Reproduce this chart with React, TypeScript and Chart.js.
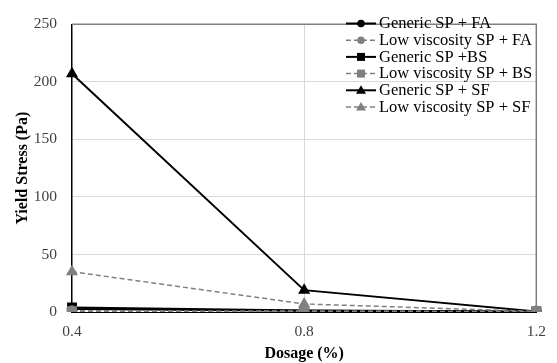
import React, { useEffect, useRef } from 'react';
import { Chart, registerables } from 'chart.js';
Chart.register(...registerables);

const categories = ['0.4', '0.8', '1.2'];
const seriesNames = [
  'Generic SP + FA',
  'Low viscosity SP + FA',
  'Generic SP +BS',
  'Low viscosity SP + BS',
  'Generic SP + SF',
  'Low viscosity SP + SF',
];
const genericFA = [2.5, 1.0, 0.3];
const lowFA = [1.0, 0.5, 0.2];
const genericBS = [4.0, 1.2, 0.5];
const lowBS = [0.6, 0.8, 0.3];
const genericSF = [207, 19, 0.5];
const lowSF = [35, 7, 0.5];
const yMin = 0;
const yMax = 250;
const yStep = 50;
const xTitle = 'Dosage (%)';
const yTitle = 'Yield Stress (Pa)';

const FONT = "'Liberation Serif', 'Times New Roman', serif";
const BLACK = '#000000';
const GRAY = '#808080';

const legendPlugin = {
  id: 'customLegend',
  afterDraw(chart: any) {
    const ctx = chart.ctx;
    const ds = chart.data.datasets;
    const x0 = 346, x1 = 376, xm = 361, tx = 379;
    const y0 = 23.5, dy = 16.7;
    ctx.save();
    ctx.font = `16.5px ${FONT}`;
    ctx.textBaseline = 'middle';
    ctx.textAlign = 'left';
    ds.forEach((d: any, i: number) => {
      const y = y0 + i * dy;
      ctx.strokeStyle = d.borderColor;
      ctx.lineWidth = d.borderWidth;
      ctx.setLineDash(d.borderDash || []);
      ctx.beginPath();
      ctx.moveTo(x0, y);
      ctx.lineTo(x1, y);
      ctx.stroke();
      ctx.setLineDash([]);
      ctx.fillStyle = d.pointBackgroundColor;
      ctx.beginPath();
      if (d.pointStyle === 'circle') {
        ctx.arc(xm, y, 3.8, 0, Math.PI * 2);
      } else if (d.pointStyle === 'rect') {
        ctx.rect(xm - 4, y - 4, 8, 8);
      } else {
        ctx.moveTo(xm, y - 5);
        ctx.lineTo(xm + 5, y + 3.5);
        ctx.lineTo(xm - 5, y + 3.5);
        ctx.closePath();
      }
      ctx.fill();
      ctx.fillStyle = '#000';
      ctx.fillText(d.label, tx, y + 0.5);
    });
    ctx.restore();
  },
};

const borderPlugin = {
  id: 'plotBorder',
  afterDatasetsDraw(chart: any) {
    const { ctx, chartArea } = chart;
    ctx.save();
    ctx.strokeStyle = GRAY;
    ctx.lineWidth = 1.5;
    ctx.beginPath();
    ctx.moveTo(chartArea.left, chartArea.top);
    ctx.lineTo(chartArea.right, chartArea.top);
    ctx.lineTo(chartArea.right, chartArea.bottom);
    ctx.stroke();
    ctx.restore();
  },
};

function makeDataset(label: string, data: number[], black: boolean, style: string, radius: number) {
  return {
    label,
    data,
    borderColor: black ? BLACK : GRAY,
    backgroundColor: black ? BLACK : GRAY,
    pointBackgroundColor: black ? BLACK : GRAY,
    pointBorderColor: black ? BLACK : GRAY,
    pointBorderWidth: 0,
    borderWidth: black ? 2 : 1.5,
    borderDash: black ? [] : [5, 3],
    pointStyle: style,
    pointRadius: radius,
    tension: 0,
    order: black ? 1 : 0,
  };
}

export default function App() {
  const ref = useRef<HTMLCanvasElement>(null);
  useEffect(() => {
    document.body.style.margin = '0';
    const chart = new Chart(ref.current as HTMLCanvasElement, {
      type: 'line',
      data: {
        labels: categories,
        datasets: [
          makeDataset(seriesNames[0], genericFA, true, 'circle', 5.5),
          makeDataset(seriesNames[1], lowFA, false, 'circle', 5.5),
          makeDataset(seriesNames[2], genericBS, true, 'rect', 7),
          makeDataset(seriesNames[3], lowBS, false, 'rect', 7),
          makeDataset(seriesNames[4], genericSF, true, 'triangle', 7),
          makeDataset(seriesNames[5], lowSF, false, 'triangle', 7),
        ] as any,
      },
      options: {
        responsive: false,
        animation: false,
        devicePixelRatio: 1,
        layout: { padding: { left: 0, right: 16, top: 19, bottom: 0 } },
        plugins: { legend: { display: false }, tooltip: { enabled: false } },
        scales: {
          x: {
            offset: false,
            grid: {
              color: (c: any) => (c.index === 0 ? 'rgba(0,0,0,0)' : c.index === 2 ? GRAY : '#d9d9d9'),
              lineWidth: 1,
              drawTicks: false,
            },
            border: { color: BLACK, width: 1 },
            ticks: { color: '#404040', font: { family: FONT, size: 15.5 }, padding: 11, maxRotation: 0 },
            title: {
              display: true,
              text: xTitle,
              color: '#000',
              font: { family: FONT, size: 16, weight: 'bold' },
              padding: { top: 0, bottom: 0 },
            },
            afterFit: (s: any) => { s.height = 51; },
          },
          y: {
            min: yMin,
            max: yMax,
            ticks: { stepSize: yStep, color: '#404040', font: { family: FONT, size: 15.5 }, padding: 15 },
            grid: {
              color: (c: any) => (c.tick && c.tick.value === yMax ? GRAY : c.tick && c.tick.value === 0 ? 'rgba(0,0,0,0)' : '#d9d9d9'),
              lineWidth: 1,
              drawTicks: false,
            },
            border: { color: BLACK, width: 1.5 },
            title: {
              display: true,
              text: yTitle,
              color: '#000',
              font: { family: FONT, size: 16, weight: 'bold' },
              padding: { top: 13, bottom: 0 },
            },
            afterFit: (s: any) => { s.width = 72; },
          },
        },
      } as any,
      plugins: [borderPlugin, legendPlugin],
    });
    return () => chart.destroy();
  }, []);
  return (
    <div style={{ width: 557, height: 363, background: '#fff' }}>
      <canvas ref={ref} width={557} height={363} />
    </div>
  );
}
